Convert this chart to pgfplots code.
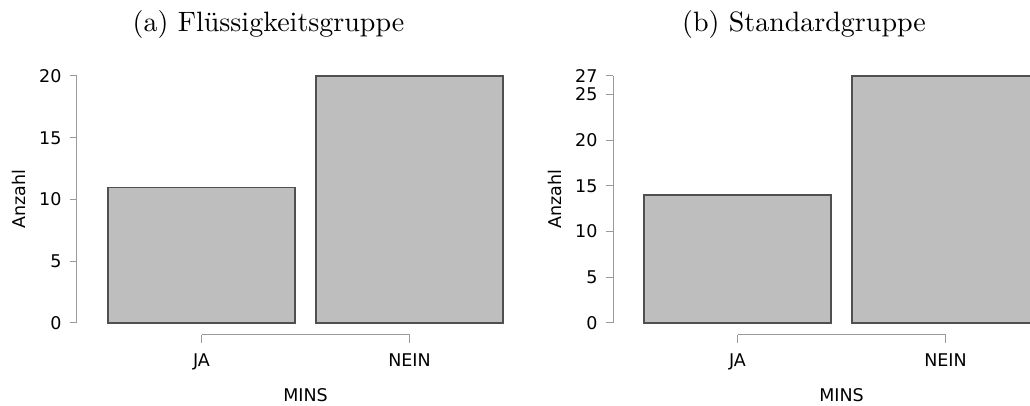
\documentclass[border=0pt]{standalone}
\usepackage{pgfplots}
\pgfplotsset{compat=1.18}
\usepackage{fontspec}
\newfontfamily\dejavu{DejaVu Sans}
\definecolor{bargray}{HTML}{BEBEBE}
\definecolor{bordergray}{HTML}{505050}
\definecolor{axgray}{HTML}{9A9A9A}
\newcommand{\tickfont}{\dejavu\fontsize{17.5}{20}\selectfont}
\newcommand{\titletext}[1]{\scalebox{2.8}{\fontsize{10}{12}\selectfont #1}}
\pgfplotsset{
  rstyle/.style={
    scale only axis, clip=false,
    tick align=outside, major tick length=7pt,
    ticklabel style={font=\tickfont, text=black},
    axis line style={draw=axgray, line width=1pt, -},
    tick style={draw=axgray, line width=1pt},
    /pgf/number format/assume math mode=true,
  },
  yaxisstyle/.style={
    rstyle, axis y line*=left, axis x line=none,
    width=426pt, height=247pt, ymin=0,
    yticklabel style={anchor=east, xshift=-5pt},
    every axis y label/.style={at={(axis description cs:-0.1373,0.5)}, anchor=center, rotate=90, font=\tickfont, text=black},
    ylabel={Anzahl},
  },
  xaxisstyle/.style={
    rstyle, axis x line*=bottom, axis y line=none,
    width=208pt, height=10pt, xmin=1, xmax=2, ymin=0, ymax=1,
    major tick length=8pt,
    xtick={1,2}, xticklabels={JA,NEIN},
    xticklabel style={yshift=-7pt},
    every axis x label/.style={at={(axis description cs:0.5,0)}, anchor=base, yshift=-67pt, font=\tickfont, text=black},
    xlabel={MINS},
  },
}
\begin{document}
\begin{tikzpicture}
\useasboundingbox (0,0) rectangle (1030pt,406pt);
% Panel (a)
\begin{axis}[yaxisstyle, at={(77pt,83pt)}, anchor=south west,
  xmin=0.4014, xmax=2.4495, ymax=20, ytick={0,5,10,15,20}]
\addplot[ybar, bar width=187pt, fill=bargray, draw=bordergray, line width=1.2pt]
  coordinates {(1,11) (2,20)};
\end{axis}
\begin{axis}[xaxisstyle, at={(201.5pt,71pt)}, anchor=south west]
\end{axis}
\node[anchor=base, inner sep=0pt] at (268.5pt,374pt) {\titletext{(a) Flüssigkeitsgruppe}};
% Panel (b)
\begin{axis}[yaxisstyle, at={(613pt,83pt)}, anchor=south west,
  xmin=0.4014, xmax=2.4495, ymax=27, ytick={0,5,10,15,20,25,27}]
\addplot[ybar, bar width=187pt, fill=bargray, draw=bordergray, line width=1.2pt]
  coordinates {(1,14) (2,27)};
\end{axis}
\begin{axis}[xaxisstyle, at={(737.5pt,71pt)}, anchor=south west]
\end{axis}
\node[anchor=base, inner sep=0pt] at (804pt,374pt) {\titletext{(b) Standardgruppe}};
\end{tikzpicture}
\end{document}
